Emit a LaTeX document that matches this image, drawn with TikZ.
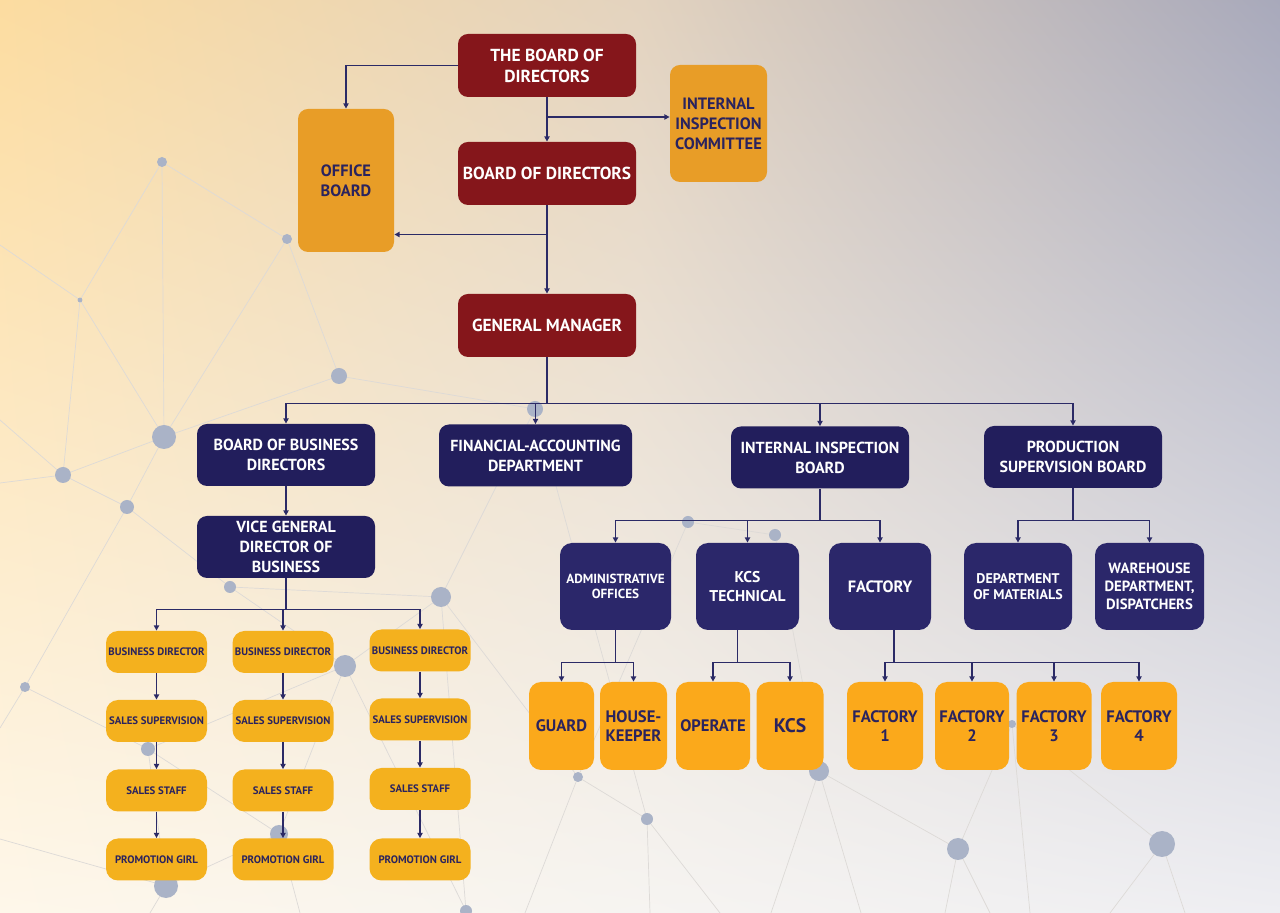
\documentclass[tikz,border=0pt]{standalone}
\usepackage{fontspec}
\setmainfont{PT Sans}
\usetikzlibrary{arrows.meta,shadings}

\definecolor{bred}{HTML}{85161B}
\definecolor{borange}{HTML}{E89D27}
\definecolor{bnavy}{HTML}{221E5C}
\definecolor{bnavytwo}{HTML}{2B276A}
\definecolor{byellow}{HTML}{F4B11E}
\definecolor{bunit}{HTML}{FBA91B}
\definecolor{tnavy}{HTML}{2A235E}
\definecolor{lnavy}{HTML}{2B2A66}
\definecolor{netgrey}{HTML}{DDDAD7}
\definecolor{dotgrey}{HTML}{AAB3C7}
\definecolor{bgtl}{HTML}{FCDCA0}
\definecolor{bgtm}{HTML}{E3D3BF}
\definecolor{bgtr}{HTML}{A8A9BB}
\definecolor{bgbl}{HTML}{FEF7EA}
\definecolor{bgbm}{HTML}{F6F4F1}
\definecolor{bgbr}{HTML}{EEEEF2}

\begin{document}
\begin{tikzpicture}[x=0.5pt,y=-0.5pt,
		>={Triangle[length=2.6pt,width=2.6pt]},
		box/.style={rounded corners=5pt, align=center, inner sep=1pt},
		redbox/.style={box, fill=bred, text=white, minimum width=89pt, minimum height=31.5pt, font=\bfseries\fontsize{8.7}{10.5}\selectfont},
		orangebox/.style={box, fill=borange, text=tnavy, font=\bfseries\fontsize{8.2}{10}\selectfont},
		navybox/.style={box, fill=bnavy, text=white, minimum width=89pt, minimum height=31pt, font=\bfseries\fontsize{8}{10}\selectfont},
		deptbox/.style={box, fill=bnavytwo, text=white, minimum height=43.5pt, rounded corners=6pt},
		salesbox/.style={box, fill=byellow, text=tnavy, minimum width=50.5pt, minimum height=21pt, rounded corners=6pt, font=\bfseries\fontsize{5.4}{6}\selectfont},
		unitbox/.style={box, fill=bunit, text=tnavy, minimum height=44pt, rounded corners=6pt, font=\bfseries\fontsize{8.3}{9.5}\selectfont},
		line/.style={draw=lnavy, line width=0.65pt},
		netline/.style={draw=netgrey, line width=0.35pt},
		netdot/.style={fill=dotgrey}]

		\useasboundingbox (0,0) rectangle (1280,913);
		\shade[upper left=bgtl, upper right=bgtm, lower left=bgbl, lower right=bgbm] (0,0) rectangle (640,913);
		\shade[upper left=bgtm, upper right=bgtr, lower left=bgbm, lower right=bgbr] (640,0) rectangle (1280,913);

		\draw[netline] (0,245) -- (80,300) -- (162,162) -- (287,239) -- (164,437) -- (80,300) -- (63,475) -- (164,437) -- (162,162);
		\draw[netline] (0,420) -- (63,475) -- (127,507) -- (164,437) -- (339,376) -- (287,239);
		\draw[netline] (0,483) -- (63,475);
		\draw[netline] (339,376) -- (535,409) -- (441,597);
		\draw[netline] (127,507) -- (230,587) -- (441,597) -- (345,666) -- (230,587);
		\draw[netline] (0,728) -- (25,687) -- (127,507);
		\draw[netline] (25,687) -- (148,749) -- (279,834) -- (345,666) -- (148,749);
		\draw[netline] (0,839) -- (166,886) -- (279,834);
		\draw[netline] (148,749) -- (166,886) -- (150,913);
		\draw[netline] (279,834) -- (300,913);
		\draw[netline] (345,666) -- (466,911) -- (441,597);
		\draw[netline] (441,597) -- (578,777) -- (647,819) -- (535,409);
		\draw[netline] (688,522) -- (578,777) -- (525,913);
		\draw[netline] (647,819) -- (650,913);
		\draw[netline] (647,819) -- (720,913);
		\draw[netline] (688,522) -- (775,535) -- (819,771);
		\draw[netline] (819,771) -- (771,913);
		\draw[netline] (819,771) -- (861,913);
		\draw[netline] (819,771) -- (958,849) -- (1012,724) -- (1162,844);
		\draw[netline] (958,849) -- (945,913);
		\draw[netline] (958,849) -- (990,913);
		\draw[netline] (1162,844) -- (1110,913);
		\draw[netline] (1162,844) -- (1185,913);
		\draw[netline] (1012,724) -- (1030,913);

		\fill[netdot] (162,162) circle[radius=2.5pt];
		\fill[netdot] (287,239) circle[radius=2.5pt];
		\fill[netdot] (80,300) circle[radius=1.2pt];
		\fill[netdot] (339,376) circle[radius=4pt];
		\fill[netdot] (164,437) circle[radius=6pt];
		\fill[netdot] (63,475) circle[radius=4pt];
		\fill[netdot] (127,507) circle[radius=3.5pt];
		\fill[netdot] (535,409) circle[radius=4pt];
		\fill[netdot] (230,587) circle[radius=3pt];
		\fill[netdot] (441,597) circle[radius=5pt];
		\fill[netdot] (688,522) circle[radius=3pt];
		\fill[netdot] (775,535) circle[radius=3pt];
		\fill[netdot] (345,666) circle[radius=5.5pt];
		\fill[netdot] (25,687) circle[radius=2.5pt];
		\fill[netdot] (148,749) circle[radius=3.5pt];
		\fill[netdot] (279,834) circle[radius=4.5pt];
		\fill[netdot] (166,886) circle[radius=6pt];
		\fill[netdot] (466,911) circle[radius=3pt];
		\fill[netdot] (578,777) circle[radius=2.5pt];
		\fill[netdot] (647,819) circle[radius=3pt];
		\fill[netdot] (819,771) circle[radius=5pt];
		\fill[netdot] (958,849) circle[radius=5.5pt];
		\fill[netdot] (1012,724) circle[radius=2pt];
		\fill[netdot] (1162,844) circle[radius=6.5pt];

		\node[redbox] (tbod) at (547,65.5) {THE BOARD OF\\DIRECTORS};
		\node[redbox] (bod) at (547,173.5) {BOARD OF DIRECTORS};
		\node[redbox] (gm) at (547,325.5) {GENERAL MANAGER};
		\node[orangebox, minimum width=48pt, minimum height=71.5pt] (office) at (346,180.5) {OFFICE\\BOARD};
		\node[orangebox, minimum width=48.5pt, minimum height=58.5pt] (iic) at (718.5,123.5) {INTERNAL\\INSPECTION\\COMMITTEE};

		\node[navybox] (bbd) at (286,455) {BOARD OF BUSINESS\\DIRECTORS};
		\node[navybox, minimum width=96.5pt] (fad) at (535.5,455.5) {FINANCIAL-ACCOUNTING\\DEPARTMENT};
		\node[navybox] (iib) at (820,457.5) {INTERNAL INSPECTION\\BOARD};
		\node[navybox] (psb) at (1073,457) {PRODUCTION\\SUPERVISION BOARD};
		\node[navybox] (vgd) at (286,547) {VICE GENERAL\\DIRECTOR OF\\BUSINESS};

		\node[deptbox, minimum width=55.5pt, font=\bfseries\fontsize{6.6}{7.5}\selectfont] (adm) at (615.5,586.5) {ADMINISTRATIVE\\OFFICES};
		\node[deptbox, minimum width=51.5pt, font=\bfseries\fontsize{7.8}{9.5}\selectfont] (kcst) at (747.5,586.5) {KCS\\TECHNICAL};
		\node[deptbox, minimum width=51pt, font=\bfseries\fontsize{8.2}{9.5}\selectfont] (fac) at (880,586.5) {FACTORY};
		\node[deptbox, minimum width=54pt, font=\bfseries\fontsize{7}{8.3}\selectfont] (dom) at (1018,586.5) {DEPARTMENT\\OF MATERIALS};
		\node[deptbox, minimum width=54.5pt, font=\bfseries\fontsize{7.4}{9}\selectfont] (wh) at (1149.5,586.5) {WAREHOUSE\\DEPARTMENT,\\DISPATCHERS};

		\node[salesbox] (bdone) at (156.5,652) {BUSINESS DIRECTOR};
		\node[salesbox] (ssone) at (156.5,721) {SALES SUPERVISION};
		\node[salesbox] (stone) at (156.5,790.5) {SALES STAFF};
		\node[salesbox] (pgone) at (156.5,859.5) {PROMOTION GIRL};
		\node[salesbox] (bdtwo) at (283,652) {BUSINESS DIRECTOR};
		\node[salesbox] (sstwo) at (283,721) {SALES SUPERVISION};
		\node[salesbox] (sttwo) at (283,790.5) {SALES STAFF};
		\node[salesbox] (pgtwo) at (283,859.5) {PROMOTION GIRL};
		\node[salesbox] (bdthree) at (420,650.5) {BUSINESS DIRECTOR};
		\node[salesbox] (ssthree) at (420,719.5) {SALES SUPERVISION};
		\node[salesbox] (stthree) at (420,789) {SALES STAFF};
		\node[salesbox] (pgthree) at (420,859.5) {PROMOTION GIRL};

		\node[unitbox, minimum width=32.5pt] (guard) at (561.5,726) {GUARD};
		\node[unitbox, minimum width=33.5pt] (hk) at (633.5,726) {HOUSE-\\KEEPER};
		\node[unitbox, minimum width=37pt] (op) at (713,726) {OPERATE};
		\node[unitbox, minimum width=33.5pt, font=\bfseries\fontsize{9.8}{11}\selectfont] (kcs) at (790,726) {KCS};
		\node[unitbox, minimum width=38pt] (fone) at (885,726) {FACTORY\\1};
		\node[unitbox, minimum width=37pt] (ftwo) at (972,726) {FACTORY\\2};
		\node[unitbox, minimum width=37.5pt] (fthree) at (1054,726) {FACTORY\\3};
		\node[unitbox, minimum width=38pt] (ffour) at (1139,726) {FACTORY\\4};

		\coordinate (iicin) at ([yshift=3.25pt]iic.west);
		\coordinate (offin) at ([yshift=-27pt]office.east);
		\coordinate (gmbus) at ([yshift=-23pt]gm.south);
		\coordinate (vgdbus) at ([yshift=-15.5pt]vgd.south);
		\coordinate (iibbus) at ([yshift=-15.75pt]iib.south);
		\coordinate (psbbus) at ([yshift=-16pt]psb.south);
		\coordinate (admbus) at ([yshift=-16pt]adm.south);
		\coordinate (kcstout) at ([xshift=-5pt]kcst.south);
		\coordinate (kcstbus) at ([yshift=-16pt]kcstout);
		\coordinate (facout) at ([xshift=7pt]fac.south);
		\coordinate (facbus) at ([yshift=-16pt]facout);

		\draw[line, ->] (tbod.west) -| (office.north);
		\draw[line, ->] (tbod.south) -- (bod.north);
		\draw[line, ->] (tbod.south |- iicin) -- (iicin);
		\draw[line, ->] (bod.south) -- (gm.north);
		\draw[line, ->] (bod.south |- offin) -- (offin);

		\draw[line] (gm.south) -- (gmbus);
		\draw[line] (bbd.north |- gmbus) -- (psb.north |- gmbus);
		\draw[line, ->] (bbd.north |- gmbus) -- (bbd.north);
		\draw[line, ->] (fad.north |- gmbus) -- (fad.north);
		\draw[line, ->] (iib.north |- gmbus) -- (iib.north);
		\draw[line, ->] (psb.north |- gmbus) -- (psb.north);

		\draw[line, ->] (bbd.south) -- (vgd.north);
		\draw[line] (vgd.south) -- (vgdbus);
		\draw[line] (bdone.north |- vgdbus) -- (bdthree.north |- vgdbus);
		\draw[line, ->] (bdone.north |- vgdbus) -- (bdone.north);
		\draw[line, ->] (bdtwo.north |- vgdbus) -- (bdtwo.north);
		\draw[line, ->] (bdthree.north |- vgdbus) -- (bdthree.north);

		\draw[line, ->] (bdone.south) -- (ssone.north);
		\draw[line, ->] (ssone.south) -- (stone.north);
		\draw[line, ->] (stone.south) -- (pgone.north);
		\draw[line, ->] (bdtwo.south) -- (sstwo.north);
		\draw[line, ->] (sstwo.south) -- (sttwo.north);
		\draw[line, ->] (sttwo.south) -- (pgtwo.north);
		\draw[line, ->] (bdthree.south) -- (ssthree.north);
		\draw[line, ->] (ssthree.south) -- (stthree.north);
		\draw[line, ->] (stthree.south) -- (pgthree.north);

		\draw[line] (iib.south) -- (iibbus);
		\draw[line] (adm.north |- iibbus) -- (fac.north |- iibbus);
		\draw[line, ->] (adm.north |- iibbus) -- (adm.north);
		\draw[line, ->] (kcst.north |- iibbus) -- (kcst.north);
		\draw[line, ->] (fac.north |- iibbus) -- (fac.north);

		\draw[line] (psb.south) -- (psbbus);
		\draw[line] (dom.north |- psbbus) -- (wh.north |- psbbus);
		\draw[line, ->] (dom.north |- psbbus) -- (dom.north);
		\draw[line, ->] (wh.north |- psbbus) -- (wh.north);

		\draw[line] (adm.south) -- (admbus);
		\draw[line] (guard.north |- admbus) -- (hk.north |- admbus);
		\draw[line, ->] (guard.north |- admbus) -- (guard.north);
		\draw[line, ->] (hk.north |- admbus) -- (hk.north);

		\draw[line] (kcstout) -- (kcstbus);
		\draw[line] (op.north |- kcstbus) -- (kcs.north |- kcstbus);
		\draw[line, ->] (op.north |- kcstbus) -- (op.north);
		\draw[line, ->] (kcs.north |- kcstbus) -- (kcs.north);

		\draw[line] (facout) -- (facbus);
		\draw[line] (fone.north |- facbus) -- (ffour.north |- facbus);
		\draw[line, ->] (fone.north |- facbus) -- (fone.north);
		\draw[line, ->] (ftwo.north |- facbus) -- (ftwo.north);
		\draw[line, ->] (fthree.north |- facbus) -- (fthree.north);
		\draw[line, ->] (ffour.north |- facbus) -- (ffour.north);
	\end{tikzpicture}
\end{document}
